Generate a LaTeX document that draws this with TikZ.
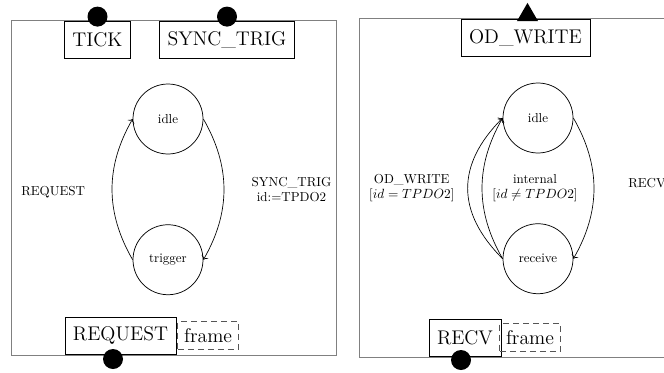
\documentclass[tikz,border=0pt]{standalone}
\usepackage{tikz}
\usetikzlibrary{arrows.meta, positioning, shapes.geometric}
\definecolor{marco}{RGB}{128,128,128}
\definecolor{trazo}{RGB}{85,85,85}
\newcommand{\lblfont}{\fontsize{9.75}{11.5}\selectfont}
\newcommand{\portfont}{\fontsize{14.85}{17}\selectfont}

\begin{document}
\begin{tikzpicture}[
        x=0.75pt, y=-0.75pt,
        node distance=52.5pt,
        panel/.style={draw=marco, line width=0.6pt},
        state/.style={circle, draw, line width=0.55pt, minimum size=52.5pt, inner sep=0pt, font=\lblfont},
        port/.style={rectangle, draw, fill=white, line width=0.6pt, minimum height=27.75pt, inner xsep=6pt, font=\portfont},
        payload/.style={rectangle, draw=trazo, dash pattern=on 4.5pt off 3pt, line width=0.6pt, minimum height=21pt, inner xsep=4.7pt, font=\portfont},
        lbl/.style={font=\lblfont, align=center, inner sep=0pt},
        trans/.style={->, line width=0.5pt},
        dot/.style={circle, fill, inner sep=0pt, minimum size=15pt},
        tri/.style={regular polygon, regular polygon sides=3, fill, inner sep=0pt, minimum size=18.2pt}
    ]
    \useasboundingbox (0,0) rectangle (664,372);

    \draw[panel] (11.5,20.5) rectangle (336.5,355);
    \node[port] (tick) at (97.5,39.5) {TICK};
    \node[port] (sync) at (227,39.5) {SYNC\_TRIG};
    \node[dot, yshift=3pt] (tickpin) at (tick.north) {};
    \node[dot, yshift=3pt] (syncpin) at (sync.north) {};

    \node[state] (idle) at (168,119) {idle};
    \node[state, below=of idle] (trig) {trigger};
    \draw[trans] (trig.west) to[bend left=30] node[lbl, left=20pt, yshift=-2pt] (reqlbl) {REQUEST} (idle.west);
    \draw[trans] (idle.east) to[bend left=30] node[lbl, right=20.5pt] (synclbl) {SYNC\_TRIG\\id:=TPDO2} (trig.east);

    \node[port] (req) at (120.5,335.5) {REQUEST};
    \node[payload, right=0.75pt of req] (reqframe) {frame};
    \node[dot] (reqpin) at (113,359) {};

    \draw[panel] (359,18) rectangle (700,357);
    \node[port] (odw) at (525.5,37.5) {OD\_WRITE};
    \node[tri] (odwpin) at (527.5,15) {};

    \node[state] (idle2) at (538,118) {idle};
    \node[state, below=of idle2] (recv) {receive};
    \draw[trans] (recv.west) to[bend left=45, looseness=1.2] node[lbl, left=9.75pt] (odwlbl) {OD\_WRITE\\{}[$id=TPDO2$]} (idle2.west);
    \draw[trans] (recv.west) to[bend left=30] node[lbl, right=7.5pt] (intlbl) {internal\\{}[$id\neq TPDO2$]} (idle2.west);
    \draw[trans] (idle2.east) to[bend left=30] node[lbl, right=25.5pt, yshift=3.75pt] (recvlbl) {RECV} (recv.east);

    \node[port] (recvport) at (465,337.5) {RECV};
    \node[payload, right=-1.5pt of recvport] (recvframe) {frame};
    \node[dot] (recvpin) at (461,360) {};
\end{tikzpicture}
\end{document}
